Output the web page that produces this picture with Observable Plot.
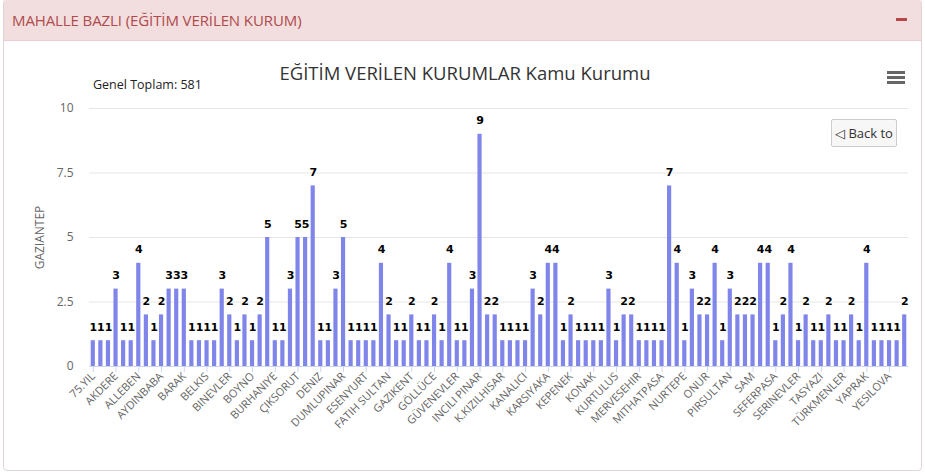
<!DOCTYPE html>
<html>
<head>
<meta charset="utf-8">
<script src="https://cdn.jsdelivr.net/npm/d3@7"></script>
<script src="https://cdn.jsdelivr.net/npm/@observablehq/plot@0.6"></script>
<style>
  html, body { margin: 0; padding: 0; background: #fff; }
  body { width: 925px; height: 475px; position: relative; overflow: hidden; font-family: "Open Sans", sans-serif; }
  #panel { position: absolute; left: 3px; top: -1px; width: 917px; height: 470px; border: 1px solid #e3d3d6; border-radius: 4px; }
  #head { position: absolute; left: 0; top: 0; right: 0; height: 41px; background: #f2dede; border-bottom: 1px solid #ebccd1; color: #b04a4c; font-size: 15px; line-height: 40px; padding-left: 8px; box-sizing: border-box; letter-spacing: -0.1px; }
  #minus { position: absolute; right: 14px; top: 18px; width: 11px; height: 3px; background: #b5474b; }
  #chart { position: absolute; left: 0; top: 44px; }
  #title { position: absolute; left: 0; width: 930px; top: 60px; text-align: center; font-size: 18.5px; color: #333; }
  #total { position: absolute; left: 93px; top: 76px; font-size: 12.5px; color: #222; }
  .bar3 { position: absolute; left: 887px; width: 18px; height: 3px; background: #666; }
  #back { position: absolute; left: 831px; top: 119px; width: 66px; height: 28px; box-sizing: border-box; background: #f7f7f7; border: 1px solid #cccccc; border-radius: 2px; font-size: 13px; color: #333; line-height: 26px; text-align: center; }
</style>
</head>
<body>
<div id="panel">
  <div id="head">MAHALLE BAZLI (EĞİTİM VERİLEN KURUM)<div id="minus"></div></div>
</div>
<div id="chart"></div>
<div id="title">EĞİTİM VERİLEN KURUMLAR Kamu Kurumu</div>
<div id="total">Genel Toplam: 581</div>
<div class="bar3" style="top:71px"></div>
<div class="bar3" style="top:76px"></div>
<div class="bar3" style="top:81px"></div>
<div id="back">◁ Back to</div>
<script>
// Tick labels (every third category is labelled in the reference)
const tickLabels = ["75.YIL","AKDERE","ALLEBEN","AYDINBABA","BARAK","BELKIS","BINEVLER","BOYNO","BURHANIYE","ÇIKSORUT","DENIZ","DUMLUPINAR","ESENYURT","FATIH SULTAN","GAZIKENT","GÖLLÜCE","GÜVENEVLER","INCILI PINAR","K.KIZILHISAR","KANALICI","KARSIYAKA","KEPENEK","KONAK","KURTULUS","MERVESEHIR","MITHATPASA","NURTEPE","ONUR","PIRSULTAN","SAM","SEFERPASA","SERINEVLER","TASYAZI","TÜRKMENLER","YAPRAK","YESILOVA"];
// Values of the 108 neighbourhood bars, left to right
const values = [1,1,1,3,1,1,4,2,1,2,3,3,3,1,1,1,1,3,2,1,2,1,2,5,1,1,3,5,
  5,7,1,1,3,5,1,1,1,1,4,2,1,1,2,1,1,2,1,4,1,1,3,9,2,2,
  1,1,1,1,3,2,4,4,1,2,1,1,1,1,3,1,2,2,1,1,1,1,7,
  4,1,3,2,2,4,1,3,2,2,2,4,4,1,2,4,1,2,1,1,2,1,1,2,1,4,1,1,1,1,2];
const yTicks = [0, 2.5, 5, 7.5, 10];
const barColor = "#8085e9";

const idx = d3.range(values.length);
const data = values.map((v, i) => ({i, v}));

const chart = Plot.plot({
  width: 925,
  height: 426,
  marginLeft: 89,
  marginRight: 17,
  marginTop: 64,
  marginBottom: 104,
  style: {fontFamily: "'Open Sans', sans-serif", fontSize: "11px", color: "#666", background: "transparent"},
  x: {type: "band", domain: idx, paddingInner: 0.45, paddingOuter: 0.225},
  y: {domain: [0, 10]},
  marks: [
    Plot.gridY(yTicks.slice(1), {stroke: "#e6e6e6", strokeOpacity: 1}),
    Plot.axisY(yTicks, {tickSize: 0, tickPadding: 16, tickFormat: d => String(d), fill: "#666",
      label: "GAZIANTEP", labelAnchor: "center", labelArrow: "none", labelOffset: 54, fontSize: 12}),
    Plot.barY(data, {x: "i", y: "v", fill: barColor}),
    Plot.text(data, {x: "i", y: "v", text: d => String(d.v), dy: -10, lineAnchor: "bottom",
      fontWeight: "bold", fontSize: 11, fill: "#000", fontFamily: "'DejaVu Sans', sans-serif",
      stroke: "#fff", strokeWidth: 1.5}),
    Plot.ruleY([0], {stroke: "#ccd6eb"}),
    Plot.axisX(d3.range(0, values.length, 3), {tickFormat: i => tickLabels[i / 3], tickRotate: -45,
      tickSize: 6, tickPadding: 2, stroke: "#ccd6eb", fill: "#666", label: null, fontSize: 11})
  ]
});
document.getElementById("chart").appendChild(chart);
</script>
</body>
</html>
